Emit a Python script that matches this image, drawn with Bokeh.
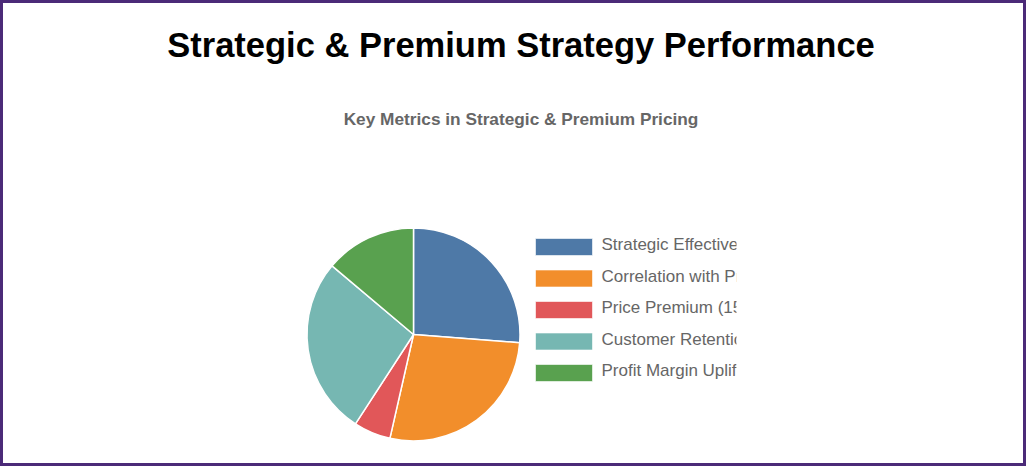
import math
from bokeh.plotting import figure
from bokeh.models import Range1d, Label, ColumnDataSource, Div, BoxAnnotation
from bokeh.layouts import column
from bokeh.core.properties import value
from bokeh.embed import file_html
from bokeh.resources import INLINE

title_text = "Strategic & Premium Strategy Performance"
subtitle_text = "Key Metrics in Strategic & Premium Pricing"
categories = [
    "Strategic Effectiveness (%)",
    "Correlation with Profitability (%)",
    "Price Premium (15%)",
    "Customer Retention (%)",
    "Profit Margin Uplift (%)",
]
values = [70, 73, 15, 72, 37]
colors = ["#4e79a7", "#f28e2b", "#e15759", "#76b7b2", "#59a14f"]

W, H = 1010, 450
PAGE_Y0 = 460  # data y = PAGE_Y0 - page y

# layout geometry (page pixels)
cx, cy, R = 413, PAGE_Y0 - 334, 106.5
leg_x0, leg_w, leg_h = 535, 57, 17
leg_top, leg_step = PAGE_Y0 - 246.5, 31.5
txt_x = 601
clip_x = 736

total = float(sum(values))
starts, ends = [], []
acc = 0.0
for v in values:
    starts.append(math.pi / 2 - 2 * math.pi * acc / total)
    acc += v
    ends.append(math.pi / 2 - 2 * math.pi * acc / total)

rows = [leg_top - i * leg_step for i in range(len(values))]
src = ColumnDataSource(dict(
    cat=categories, val=values, color=colors, start=starts, end=ends,
    lx=[leg_x0 + leg_w / 2] * len(values),
    ly=rows,
    ty=[r + 2.5 for r in rows],
    tx=[txt_x] * len(values),
))

p = figure(width=W, height=H, output_backend="svg", toolbar_location=None,
           x_range=Range1d(0, W), y_range=Range1d(0, H),
           min_border_left=0, min_border_right=0,
           min_border_top=0, min_border_bottom=0)
p.axis.visible = False
p.grid.visible = False
p.outline_line_color = None
p.background_fill_color = "white"
p.border_fill_color = "white"

p.wedge(x=cx, y=cy, radius=R, start_angle="start", end_angle="end",
        direction="clock", fill_color="color", line_color="white",
        line_width=1.5, source=src)

p.rect(x="lx", y="ly", width=leg_w, height=leg_h, fill_color="color",
       line_color="white", line_width=1, line_alpha=0.6, source=src)
p.text(x="tx", y="ty", text="cat", text_font=value("Liberation Sans"),
       text_font_size="17px", text_color="#666666", text_baseline="alphabetic",
       text_align="left", source=src)

# the legend area is cut off on its right side
p.add_layout(BoxAnnotation(left=clip_x, right=W, bottom=rows[-1] - 25, top=rows[0] + 25,
                           fill_color="white", fill_alpha=1.0, line_color=None))

p.add_layout(Label(x=520.5, y=PAGE_Y0 - 44, text=title_text,
                   text_font="Liberation Sans",
                   text_font_style="bold", text_font_size="34.5px",
                   text_color="#000000", text_align="center",
                   text_baseline="alphabetic"))
p.add_layout(Label(x=520.5, y=PAGE_Y0 - 118, text=subtitle_text,
                   text_font="Liberation Sans",
                   text_font_style="bold", text_font_size="17.25px",
                   text_color="#666666", text_align="center",
                   text_baseline="alphabetic"))

border = Div(text='<div style="position:fixed;left:0;top:0;width:1026px;height:466px;'
                  'box-sizing:border-box;border:3px solid #4b2a78;pointer-events:none;z-index:10"></div>',
             width=0, height=0)

layout = column(border, p, spacing=0)
open("out.html", "w").write(file_html(layout, INLINE))
